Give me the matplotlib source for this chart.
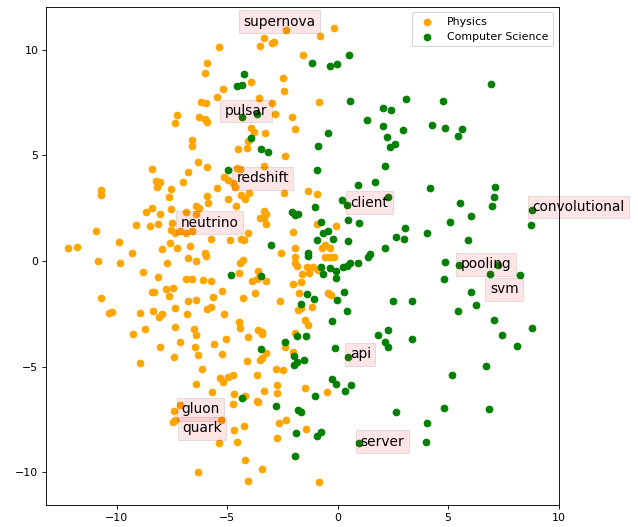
import numpy as np
import matplotlib
matplotlib.use("Agg")
from matplotlib import pyplot as plt

# word embedding projection
physics_pts = [
    (-5.38, 10.14), (-5.9, 9.38), (-6.02, 8.91), (-5.48, 7.77), (-5.2, 8.15),
    (-6.2, 7.52), (-5.95, 7.5), (-7.28, 6.92), (-7.34, 6.53), (-6.28, 6.81),
    (-6.0, 6.71), (-5.9, 6.6),
    (-3.32, 10.58), (-3.51, 10.2), (-2.99, 10.35), (-2.88, 10.4), (-2.34, 10.93),
    (-0.79, 10.66), (-0.18, 11.04), (-1.57, 9.78), (-2.46, 8.67), (-2.42, 8.06),
    (-3.9, 8.48), (-3.56, 7.74), (-2.99, 7.5), (-0.85, 7.55), (-2.84, 6.97),
    (-2.08, 6.81), (-1.93, 6.26), (-3.9, 6.29), (-3.29, 6.08),
    (-3.78, 6.13), (-4.05, 5.69), (-4.5, 5.31), (-4.08, 5.34), (-2.39, 4.99),
    (-3.32, 4.5), (-4.57, 4.39), (-4.42, 4.36), (-5.14, 3.97), (-4.95, 3.84),
    (-4.73, 3.68), (-4.65, 3.52), (-5.48, 3.44), (-4.38, 3.13), (-4.0, 3.21),
    (-4.2, 2.94), (-4.98, 2.94), (-4.62, 2.61), (-2.42, 3.21), (-1.36, 3.32),
    (-0.95, 3.18), (-3.32, 2.38), (-3.22, 2.21), (-3.52, 2.02), (-3.32, 2.05),
    (-3.22, 1.74), (-4.05, 1.31), (-4.88, 1.0), (-4.38, 1.03), (-4.23, 1.0),
    (-2.04, 1.36), (-1.93, 0.63), (-0.95, 1.74), (-0.09, 1.67), (-0.58, 0.76),
    (-0.35, 0.63), (-0.72, 0.63), (-2.54, 0.36),
    (-6.61, 5.73), (-6.61, 5.46), (-6.31, 4.68), (-5.9, 4.45), (-8.42, 4.36),
    (-6.79, 4.2), (-8.23, 3.79), (-8.05, 3.76), (-8.17, 3.52), (-6.99, 3.76),
    (-7.55, 3.4), (-7.63, 3.02), (-5.93, 3.09), (-5.86, 2.76), (-10.72, 3.36),
    (-10.72, 3.13), (-6.43, 2.62), (-6.27, 2.53), (-8.68, 2.31), (-8.38, 2.5),
    (-8.02, 2.23), (-7.55, 2.46), (-6.84, 2.31), (-6.39, 2.21), (-9.14, 1.71),
    (-8.5, 1.66), (-8.12, 1.74), (-7.49, 1.79), (-7.55, 1.47), (-7.37, 1.31),
    (-7.14, 1.42), (-6.84, 1.31), (-6.61, 1.42), (-10.92, 1.44), (-9.9, 0.92),
    (-5.71, 1.04), (-7.57, 0.84), (-7.25, 0.6), (-6.66, 0.73), (-7.97, 0.57),
    (-12.2, 0.63), (-11.78, 0.66), (-9.29, 0.39), (-5.98, 0.36),
    (-10.84, 0.01), (-9.83, -0.08), (-7.72, -0.11), (-6.79, 0.13), (-6.43, 0.01),
    (-5.96, 0.24), (-8.8, -0.54), (-8.15, -0.77), (-6.84, -0.87), (-6.61, -0.87),
    (-6.09, -0.9), (-5.71, -0.93), (-8.42, -1.48), (-8.3, -1.45), (-7.79, -1.34),
    (-7.47, -1.29), (-7.64, -1.66), (-6.79, -1.88), (-6.39, -1.85), (-5.66, -1.69),
    (-10.69, -1.77), (-10.34, -2.45), (-10.2, -2.4), (-8.95, -2.45), (-8.35, -2.37),
    (-8.09, -2.64), (-7.94, -2.51), (-7.34, -2.24), (-6.81, -2.51), (-5.89, -2.29),
    (-5.75, -2.17), (-9.28, -3.47), (-8.7, -3.24), (-7.34, -3.14), (-6.49, -3.22),
    (-6.39, -3.51), (-8.05, -4.06), (-7.14, -3.85), (-6.46, -4.09), (-6.34, -4.45),
    (-7.4, -4.57), (-5.59, -3.93), (-8.95, -4.82), (-6.16, -5.12),
    (-1.93, 0.2), (-1.93, -0.11), (-1.86, -0.24), (-4.42, -0.08), (-4.3, 0.05),
    (-4.47, -0.58), (-3.6, -0.47), (-3.52, -0.71), (-3.87, -0.93), (-3.67, -0.87),
    (-3.26, -0.95), (-1.4, -0.27), (-1.1, -0.27), (-1.63, -0.62), (-1.29, -0.55),
    (-0.88, -0.43), (-0.58, 0.2), (-0.35, 0.17), (-0.15, 0.17), (-2.01, -1.09),
    (-1.66, -1.0), (-3.75, -1.5), (-5.23, -1.42), (-4.27, -1.77), (-2.61, -1.9),
    (-1.75, -1.53), (-0.43, -1.53), (-0.3, -1.61), (-1.78, -2.32), (-1.66, -2.21),
    (-1.18, -2.19), (-5.14, -2.51), (-4.47, -2.88), (-4.42, -3.19), (-1.48, -2.8),
    (-1.33, -3.03), (-3.62, -3.27), (-3.44, -3.35), (-3.4, -3.47), (-4.05, -3.62),
    (-5.07, -3.71), (-1.93, -3.43), (-2.39, -4.09), (-3.25, -4.35), (-3.44, -4.58),
    (-3.52, -4.69), (-5.23, -4.41), (-4.08, -4.74), (-2.01, -4.3), (-2.79, -5.13),
    (-2.49, -5.17), (-3.67, -5.4), (-4.95, -5.48), (-4.73, -5.4), (-5.33, -5.56),
    (-6.39, -5.83), (-5.68, -6.19), (-7.41, -7.09), (-7.14, -6.82), (-7.44, -7.64),
    (-7.37, -7.54), (-5.3, -7.54), (-5.35, -8.64), (-6.31, -10.01), (-5.2, -5.75),
    (-4.68, -6.32), (-4.2, -6.38), (-4.73, -6.79), (-3.67, -6.64), (-3.6, -6.7),
    (-3.32, -6.16), (-2.76, -5.88), (-2.76, -6.27), (-1.48, -6.0), (-0.47, -6.19),
    (-4.71, -8.01), (-4.57, -8.59), (-4.23, -7.81), (-2.34, -7.54), (-2.64, -7.69),
    (-1.45, -7.96), (-2.76, -8.37), (-4.2, -9.43), (-3.44, -9.87), (-4.05, -10.43),
    (-0.85, -10.47),
]

cs_pts = [
    (-4.24, 8.86), (-4.57, 8.28), (-4.35, 8.34), (-1.15, 9.37), (-0.35, 9.23),
    (-0.02, 9.34), (0.51, 9.75), (0.56, 7.57), (-4.35, 6.84), (-3.67, 6.95),
    (1.31, 6.68), (2.04, 7.27), (2.05, 6.4), (2.4, 7.15), (-0.43, 6.08),
    (6.94, 8.39), (3.08, 7.68), (4.78, 7.58), (2.97, 6.21), (4.26, 6.45),
    (4.86, 6.29), (5.62, 6.26), (5.43, 5.92),
    (2.22, 5.89), (2.37, 5.42), (2.6, 5.55), (2.14, 4.52), (4.18, 3.44),
    (7.12, 3.52), (7.09, 3.02), (6.97, 2.62), (5.54, 2.76), (6.04, 2.13),
    (5.09, 1.86), (8.79, 2.42), (8.75, 1.71), (3.05, 1.55), (2.64, 1.15),
    (3.02, 1.03), (4.03, 1.31), (5.92, 0.98), (2.29, 3.05), (2.14, 0.6),
    (-3.9, 5.81), (-3.47, 5.31), (-3.17, 5.15), (-0.88, 5.46), (-4.98, 4.31),
    (-0.91, 4.31), (0.93, 3.6), (1.69, 3.76), (0.18, 2.89), (0.41, 2.65),
    (-1.03, 2.57), (-2.06, 2.31), (-1.78, 2.21), (-1.95, 2.2), (-0.76, 1.83),
    (0.45, 1.94), (0.98, 1.82), (-0.65, 1.31), (-0.43, 1.42), (-0.91, 1.0),
    (-0.2, 1.03), (0.48, 0.95), (-3.02, 0.76), (-1.33, 0.36), (1.46, 0.32),
    (-1.36, 0.25), (-4.83, -0.66), (-3.47, -0.7), (-0.76, -0.3), (-0.35, -0.35),
    (-0.65, -0.62), (-0.05, -0.46), (0.25, -0.27), (0.41, -0.24), (0.56, -0.11),
    (0.91, -0.11), (1.36, 0.17), (-0.05, -0.82), (-1.4, -1.58), (-1.06, -1.8),
    (-1.66, -2.05), (0.3, -1.48), (-0.02, -1.85), (0.41, -2.35), (-0.27, -2.84),
    (-1.86, -3.55), (-1.44, -3.55), (-2.36, -3.85), (-3.47, -4.17), (-0.12, -4.11),
    (-1.98, -4.5), (-1.51, -4.69), (-1.86, -4.77), (-1.97, -4.93), (0.48, -4.57),
    (1.84, -3.51), (2.26, -3.27), (2.14, -3.82), (2.26, -4.06), (-0.27, -5.61),
    (4.86, -0.03), (5.51, -0.19), (7.27, -0.19), (4.83, -0.87), (6.9, -0.63),
    (8.26, -0.66), (6.04, -1.45), (6.26, -2.09), (5.46, -2.35), (2.52, -1.88),
    (3.35, -1.88), (7.09, -2.8), (8.79, -3.16), (7.46, -3.51), (8.1, -4.03),
    (3.35, -3.71), (6.7, -4.96), (5.16, -5.4),
    (-4.32, -6.48), (-2.79, -6.87), (-1.03, -6.38), (-0.05, -5.83), (0.33, -6.15),
    (0.6, -5.88), (-1.78, -7.06), (-1.66, -7.17), (-1.9, -8.14), (-0.95, -8.28),
    (-0.76, -8.12), (-1.92, -9.23), (0.96, -8.64),
    (2.63, -7.17), (4.83, -6.98), (6.87, -7.03), (4.03, -7.66), (4.01, -8.59),
]

label_words = ["supernova", "pulsar", "redshift", "neutrino", "gluon", "quark",
               "client", "api", "server", "convolutional", "pooling", "svm"]
label_x = [-4.25, -5.12, -4.58, -7.12, -7.07, -7.04,
           0.58, 0.55, 1.04, 8.81, 5.57, 6.89]
label_y = [11.15, 6.92, 3.73, 1.63, -7.22, -8.12,
           2.57, -4.61, -8.75, 2.37, -0.35, -1.53]

physics = np.array(physics_pts)
cs = np.array(cs_pts)

DPI = 79.2
fig = plt.figure(figsize=(638 / DPI, 527 / DPI), dpi=DPI)
ax = fig.add_axes([0.0721, 0.0417, 0.8033, 0.9456])

ax.scatter(physics[:, 0], physics[:, 1], color='orange', label='Physics')
ax.scatter(cs[:, 0], cs[:, 1], color='green', label='Computer Science')

for w, x, y in zip(label_words, label_x, label_y):
    ax.annotate(w, (x, y), fontsize=12.5, bbox=dict(facecolor='red', alpha=0.1))

ax.set_xlim(-13.2, 10.0)
ax.set_ylim(-11.56, 12.05)
ax.set_xticks([-10, -5, 0, 5, 10])
ax.set_yticks([-10, -5, 0, 5, 10])
ax.legend(loc='upper right')

fig.savefig('out.png', dpi=DPI)
